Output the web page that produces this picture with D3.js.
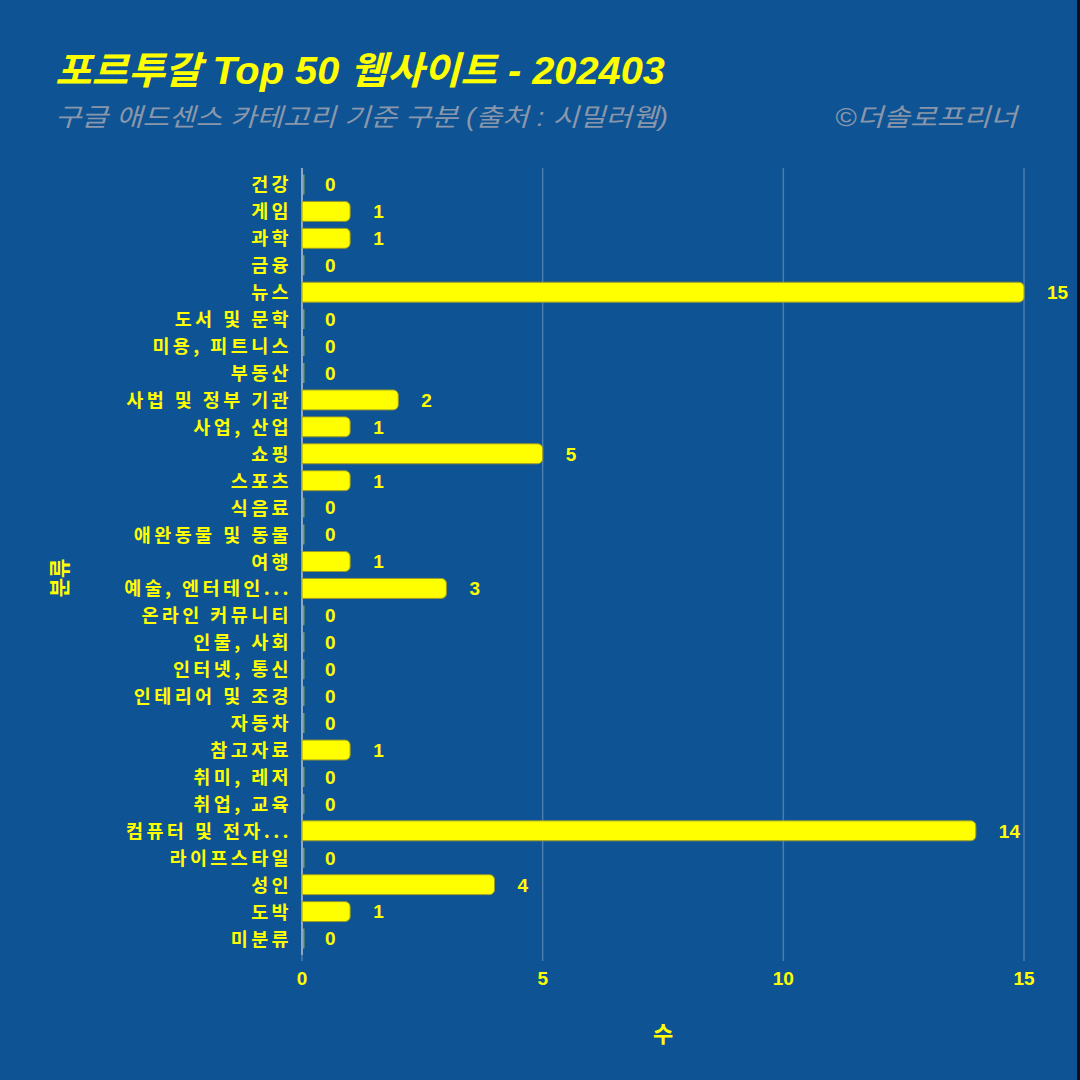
<!DOCTYPE html>
<html><head><meta charset="utf-8">
<script src="https://cdn.jsdelivr.net/npm/d3@7"></script>
<style>
html,body{margin:0;padding:0;background:#0E5394;}
svg{display:block;}
text{font-family:"Liberation Sans","Noto Sans CJK KR",sans-serif;}
</style></head>
<body>
<svg id="chart" width="1080" height="1080"></svg>
<script>
const categories = ["건강","게임","과학","금융","뉴스","도서 및 문학","미용, 피트니스","부동산","사법 및 정부 기관","사업, 산업","쇼핑","스포츠","식음료","애완동물 및 동물","여행","예술, 엔터테인...","온라인 커뮤니티","인물, 사회","인터넷, 통신","인테리어 및 조경","자동차","참고자료","취미, 레저","취업, 교육","컴퓨터 및 전자...","라이프스타일","성인","도박","미분류"];
const counts = [0,1,1,0,15,0,0,0,2,1,5,1,0,0,1,3,0,0,0,0,0,1,0,0,14,0,4,1,0];
const xTicks = [0,5,10,15];
const titleText = "포르투갈 Top 50 웹사이트 - 202403";
const subtitleText = "구글 애드센스 카테고리 기준 구분 (출처 : 시밀러웹)";
const creditText = "©더솔로프리너";
const xTitle = "수";
const yTitle = "분류";

(function(){
const svg = d3.select("#chart");
const bg = "#0E5394", yellow = "#FFFF00";
svg.append("rect").attr("width",1080).attr("height",1080).attr("fill",bg);
svg.append("rect").attr("x",1077).attr("y",0).attr("width",3).attr("height",1080).attr("fill","#0a0f1a");

const pLeft = 302, pRight = 1024, pTop = 171, pBottom = 952;
const x = d3.scaleLinear().domain([0,15]).range([pLeft,pRight]);
const y = d3.scaleBand().domain(categories).range([pTop,pBottom]).paddingInner(0.26).paddingOuter(0.13);

// grid
svg.append("g").selectAll("line").data(xTicks.filter(d=>d>0)).join("line")
  .attr("x1",d=>x(d)).attr("x2",d=>x(d)).attr("y1",168).attr("y2",955)
  .attr("stroke","rgba(255,255,255,0.25)").attr("stroke-width",1.5);
// tick marks
svg.append("g").selectAll("line").data(xTicks).join("line")
  .attr("x1",d=>x(d)).attr("x2",d=>x(d)).attr("y1",955).attr("y2",961)
  .attr("stroke","rgba(255,255,255,0.25)").attr("stroke-width",1.5);
// axis line
svg.append("line").attr("x1",pLeft).attr("x2",pLeft).attr("y1",168).attr("y2",955)
  .attr("stroke","#8fa6c2").attr("stroke-width",2);

// bars
const r = 5;
function barPath(d,i){
  const x0 = x(0), x1 = x(d), y0 = y(categories[i]), h = y.bandwidth();
  const rr = Math.min(r, (x1-x0)/2, h/2);
  if (x1 - x0 < 0.5) return `M${x0+1},${y0}h1.5v${h}h-1.5Z`;
  return `M${x0},${y0}H${x1-rr}A${rr},${rr} 0 0 1 ${x1},${y0+rr}V${y0+h-rr}A${rr},${rr} 0 0 1 ${x1-rr},${y0+h}H${x0}Z`;
}
svg.append("g").selectAll("path").data(counts).join("path")
  .attr("d",(d,i)=>barPath(d,i))
  .attr("fill",yellow).attr("stroke",(d)=>d===0?"none":"#9a9a2a").attr("stroke-width",1)
  .attr("opacity",(d)=>d===0?0.45:1);

// value labels
svg.append("g").selectAll("text").data(counts).join("text")
  .attr("x",d=>x(d)+23).attr("y",(d,i)=>y(categories[i])+y.bandwidth()/2)
  .attr("dy","0.36em").attr("fill",yellow).attr("font-weight","bold").attr("font-size",19)
  .text(d=>d);

// category labels
svg.append("g").selectAll("text").data(categories).join("text")
  .attr("x",292).attr("y",d=>y(d)+y.bandwidth()/2).attr("dy","0.38em")
  .attr("text-anchor","end").attr("fill",yellow).attr("font-weight","bold").attr("font-size",18.5)
  .attr("letter-spacing",3.4)
  .style("font-family","'Noto Sans CJK KR',sans-serif")
  .text(d=>d);

// x tick labels
svg.append("g").selectAll("text").data(xTicks).join("text")
  .attr("x",d=>x(d)).attr("y",985).attr("text-anchor","middle")
  .attr("fill",yellow).attr("font-weight","bold").attr("font-size",19).text(d=>d);

// axis titles
svg.append("text").attr("x",663).attr("y",1042).attr("text-anchor","middle")
  .attr("fill",yellow).attr("font-weight","bold").attr("font-size",22)
  .style("font-family","'Noto Sans CJK KR',sans-serif").text(xTitle);
svg.append("text").attr("transform","translate(67,578) rotate(-90)").attr("text-anchor","middle")
  .attr("fill",yellow).attr("font-weight","bold").attr("font-size",21)
  .style("font-family","'Noto Sans CJK KR',sans-serif").text(yTitle);

// titles
svg.append("text").attr("x",55).attr("y",84).attr("fill",yellow)
  .attr("font-weight","bold").attr("font-style","italic").attr("font-size",38)
  .attr("textLength",610).attr("lengthAdjust","spacingAndGlyphs")
  .text(titleText);
svg.append("text").attr("x",55).attr("y",126).attr("fill","#8a97aa")
  .attr("font-style","italic").attr("font-size",25)
  .attr("textLength",613).attr("lengthAdjust","spacingAndGlyphs")
  .text(subtitleText);
svg.append("text").attr("x",835).attr("y",126).attr("fill","#8a97aa")
  .attr("font-style","italic").attr("font-size",25)
  .attr("textLength",182).attr("lengthAdjust","spacingAndGlyphs")
  .text(creditText);
})();
</script>
</body></html>
